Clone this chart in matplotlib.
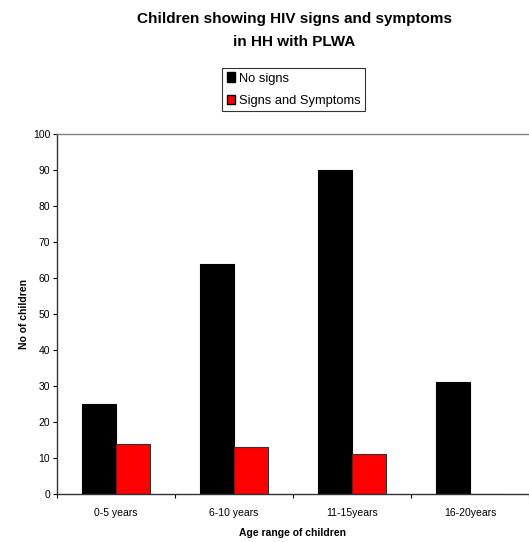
import numpy as np
import matplotlib.pyplot as plt
from matplotlib.patches import Patch

plt.rcParams['font.family'] = ['Liberation Sans', 'DejaVu Sans']

categories = ['0-5 years', '6-10 years', '11-15years', '16-20years']
no_signs = [25, 64, 90, 31]
signs_symptoms = [14, 13, 11, 0]

fig = plt.figure(figsize=(5.29, 5.42), dpi=100)
ax = fig.add_axes([0.1078, 0.0886, 0.892, 0.6642])

x = np.arange(len(categories))
w = 0.29
ax.bar(x - w/2, no_signs, w, color='black', edgecolor='black', linewidth=0.8)
ax.bar(x + w/2, signs_symptoms, w, color='#ff0000', edgecolor='#333333', linewidth=0.8)

ax.set_xlim(-0.5, 3.5)
ax.set_ylim(0, 100)
ax.set_yticks(range(0, 101, 10))
ax.tick_params(axis='y', labelsize=7.5, length=3, width=0.8, pad=2)
ax.set_xticks(x)
ax.set_xticklabels(categories)
ax.tick_params(axis='x', labelsize=7.5, length=0, pad=10)
ax.set_xticks(np.arange(-0.5, 4.0, 1.0), minor=True)
ax.tick_params(axis='x', which='minor', length=3, width=0.8)

ax.spines['right'].set_visible(False)
ax.spines['top'].set_color('#808080')
ax.spines['top'].set_linewidth(1.0)
for s in ['left', 'bottom']:
    ax.spines[s].set_color('#333333')
    ax.spines[s].set_linewidth(1.0)

ax.set_ylabel('No of children', fontsize=7.5, fontweight='bold', labelpad=3)
ax.set_xlabel('Age range of children', fontsize=7.5, fontweight='bold', labelpad=7)

fig.text(0.556, 0.944, 'Children showing HIV signs and symptoms\nin HH with PLWA',
         ha='center', va='center', fontsize=11, fontweight='bold', linespacing=1.8)

handles = [Patch(facecolor='black', edgecolor='black'),
           Patch(facecolor='#ff0000', edgecolor='black')]
leg = fig.legend(handles, ['No signs', 'Signs and Symptoms'], loc='center',
                 bbox_to_anchor=(0.555, 0.8345), fontsize=9.3, frameon=True,
                 fancybox=False, edgecolor='black', handlelength=0.6, handleheight=0.8,
                 handletextpad=0.3, borderpad=0.35, labelspacing=0.75, borderaxespad=0)
leg.get_frame().set_linewidth(0.8)

fig.savefig('out.png', dpi=100)
